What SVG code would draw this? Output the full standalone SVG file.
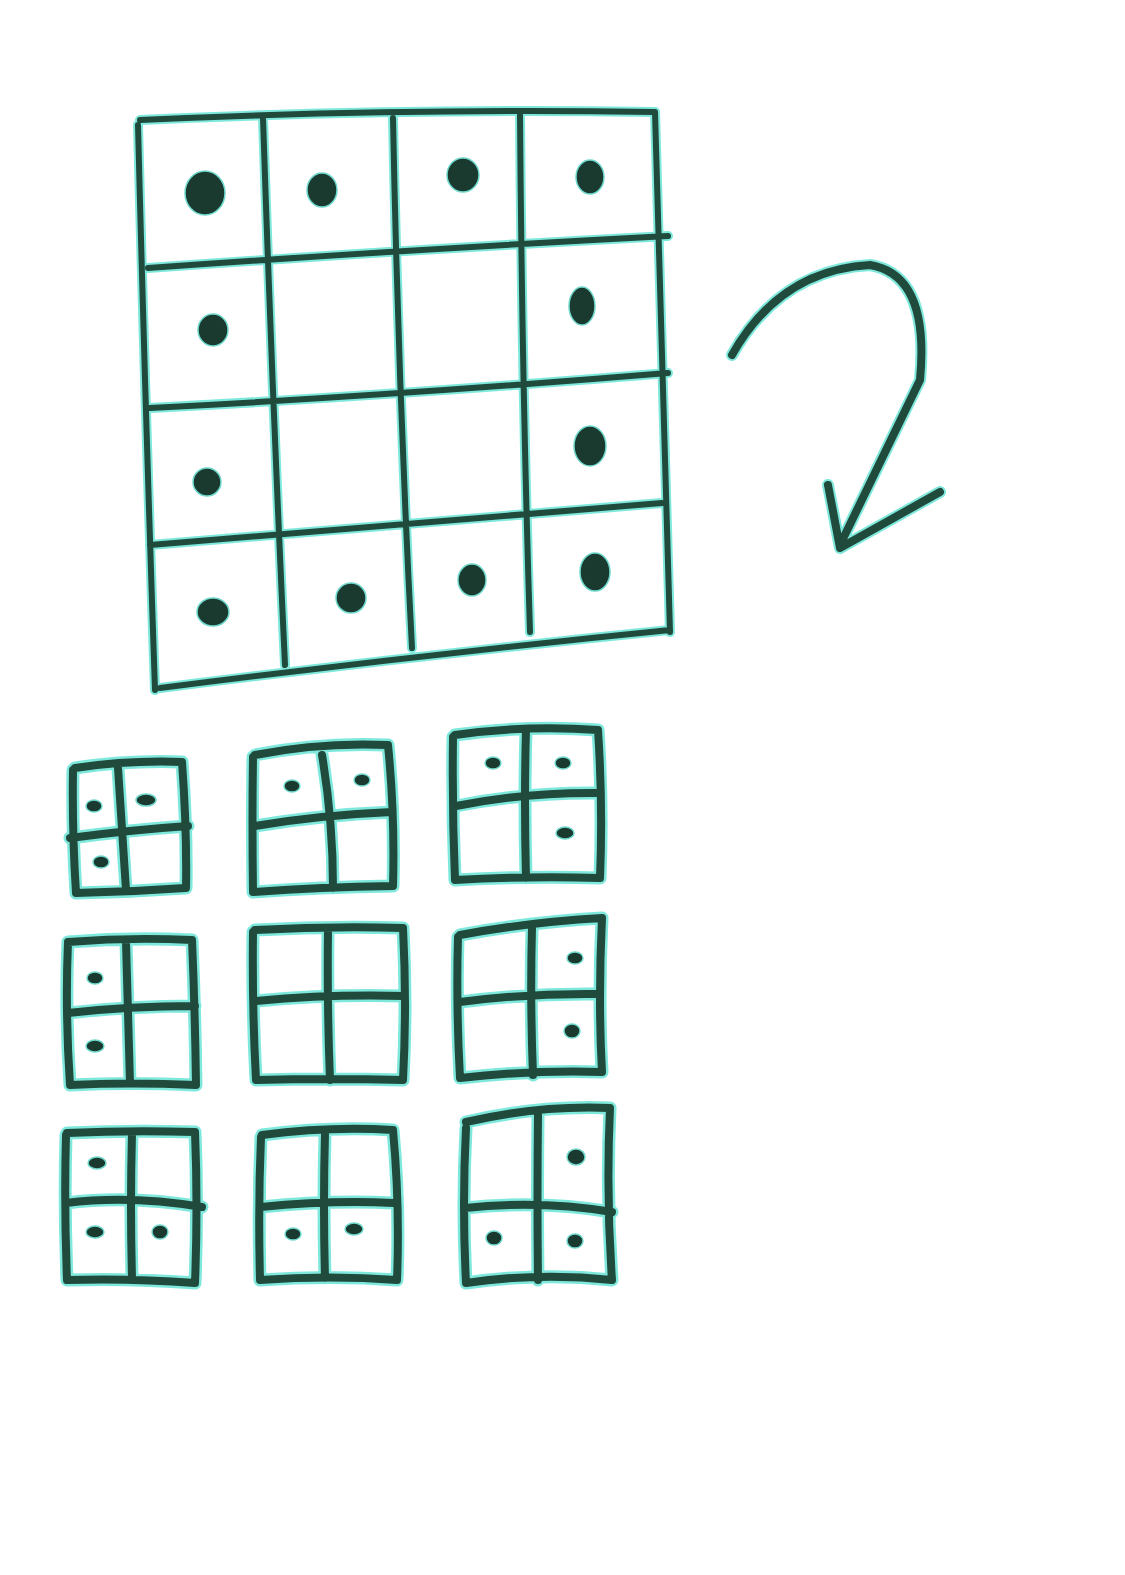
<svg xmlns="http://www.w3.org/2000/svg" width="1125" height="1575" viewBox="0 0 1125 1575">
<style>
.h{fill:none;stroke:#7fe8dc;stroke-linecap:round;stroke-linejoin:round;}
.k{fill:none;stroke:#1f4a3c;stroke-linecap:round;stroke-linejoin:round;}
.big .h{stroke-width:10}
.big .k{stroke-width:6}
.sm .h{stroke-width:13}
.sm .k{stroke-width:8}
.d{fill:#1a3a30;stroke:#6fd8cc;stroke-width:1.5}
</style>
<defs>
<path id="g0" d="M140,120 Q400,108 655,112 M138,125 Q145,400 155,690 M655,112 Q662,380 670,632 M160,688 Q420,655 670,630 M148,268 Q400,250 668,236 M150,408 Q400,395 668,373 M150,545 Q400,525 662,503 M263,118 Q272,390 285,665 M393,118 Q398,380 412,648 M520,115 Q522,380 530,632"/>
<path id="arr" d="M732,355 Q780,270 870,265 Q930,275 920,380 L840,545 M828,485 L840,548 L940,492"/>
</defs>
<rect width="1125" height="1575" fill="#ffffff"/>
<g id="main-grid" class="big">
<use href="#g0" class="h"/>
<use href="#g0" class="k"/>
<ellipse class="d" cx="205" cy="193" rx="20" ry="22"/>
<ellipse class="d" cx="322" cy="190" rx="15" ry="17"/>
<ellipse class="d" cx="463" cy="175" rx="16" ry="17"/>
<ellipse class="d" cx="590" cy="177" rx="14" ry="17"/>
<ellipse class="d" cx="213" cy="330" rx="15" ry="16"/>
<ellipse class="d" cx="582" cy="306" rx="13" ry="19"/>
<ellipse class="d" cx="207" cy="482" rx="14" ry="14"/>
<ellipse class="d" cx="590" cy="446" rx="16" ry="20"/>
<ellipse class="d" cx="213" cy="612" rx="16" ry="14"/>
<ellipse class="d" cx="351" cy="598" rx="15" ry="15"/>
<ellipse class="d" cx="472" cy="580" rx="14" ry="16"/>
<ellipse class="d" cx="595" cy="572" rx="15" ry="19"/>
</g>
<g id="connectors">
<use href="#arr" class="h" style="stroke-width:12"/>
<use href="#arr" class="k" style="stroke-width:8"/>
</g>
<defs>
<path id="b1" d="M75,768 Q130,760 182,762 M73,770 Q72,830 76,893 M76,893 Q130,892 185,888 M182,762 Q187,830 186,888 M118,768 Q122,830 126,890 M70,838 Q130,830 188,826"/>
<path id="b2" d="M255,755 Q320,742 388,745 M253,757 Q252,820 253,892 M253,892 Q320,887 393,886 M388,745 Q395,815 393,886 M322,755 Q333,820 333,888 M255,826 Q320,815 392,812"/>
<path id="b3" d="M455,735 Q525,725 598,730 M453,737 Q452,810 455,880 M455,880 Q525,876 600,878 M598,730 Q603,805 600,878 M526,730 Q524,800 526,878 M456,806 Q525,792 600,793"/>
<path id="b4" d="M68,942 Q130,937 192,940 M68,942 Q65,1010 70,1085 M70,1085 Q130,1082 196,1085 M192,940 Q195,1010 196,1085 M126,942 Q128,1010 130,1083 M68,1013 Q130,1006 195,1006"/>
<path id="b5" d="M255,930 Q330,926 403,928 M253,932 Q252,1005 256,1080 M256,1080 Q330,1078 403,1080 M403,928 Q407,1005 403,1080 M328,930 Q327,1005 330,1080 M256,1001 Q330,994 404,996"/>
<path id="b6" d="M460,935 Q530,922 602,918 M458,937 Q456,1005 460,1078 M460,1078 Q530,1070 602,1072 M602,918 Q598,1000 602,1072 M532,928 Q530,1000 533,1075 M460,1002 Q530,993 600,994"/>
<path id="b7" d="M67,1133 Q130,1130 195,1132 M66,1135 Q64,1205 67,1280 M67,1280 Q130,1278 195,1283 M195,1132 Q198,1205 195,1283 M132,1133 Q130,1205 132,1278 M66,1203 Q130,1195 202,1207"/>
<path id="b8" d="M262,1135 Q330,1126 393,1130 M261,1137 Q258,1205 260,1280 M260,1280 Q330,1275 397,1280 M393,1130 Q400,1205 397,1280 M325,1133 Q323,1205 325,1278 M261,1207 Q330,1200 394,1203"/>
<path id="b9" d="M466,1122 Q540,1105 610,1108 M466,1128 Q462,1205 466,1283 M466,1283 Q540,1272 612,1280 M610,1108 Q606,1195 612,1280 M538,1115 Q537,1200 538,1280 M465,1208 Q540,1200 612,1212"/>
</defs>
<g id="box1" class="sm"><use href="#b1" class="h"/><use href="#b1" class="k"/>
<ellipse class="d" cx="94" cy="806" rx="8" ry="6"/><ellipse class="d" cx="146" cy="800" rx="10" ry="6"/><ellipse class="d" cx="101" cy="862" rx="8" ry="6"/></g>
<g id="box2" class="sm"><use href="#b2" class="h"/><use href="#b2" class="k"/>
<ellipse class="d" cx="292" cy="786" rx="8" ry="6"/><ellipse class="d" cx="362" cy="780" rx="8" ry="6"/></g>
<g id="box3" class="sm"><use href="#b3" class="h"/><use href="#b3" class="k"/>
<ellipse class="d" cx="493" cy="763" rx="8" ry="6"/><ellipse class="d" cx="563" cy="763" rx="8" ry="6"/><ellipse class="d" cx="565" cy="833" rx="9" ry="6"/></g>
<g id="box4" class="sm"><use href="#b4" class="h"/><use href="#b4" class="k"/>
<ellipse class="d" cx="95" cy="978" rx="8" ry="6"/><ellipse class="d" cx="95" cy="1046" rx="9" ry="6"/></g>
<g id="box5" class="sm"><use href="#b5" class="h"/><use href="#b5" class="k"/></g>
<g id="box6" class="sm"><use href="#b6" class="h"/><use href="#b6" class="k"/>
<ellipse class="d" cx="575" cy="958" rx="8" ry="6"/><ellipse class="d" cx="572" cy="1031" rx="8" ry="7"/></g>
<g id="box7" class="sm"><use href="#b7" class="h"/><use href="#b7" class="k"/>
<ellipse class="d" cx="97" cy="1163" rx="9" ry="6"/><ellipse class="d" cx="95" cy="1232" rx="9" ry="6"/><ellipse class="d" cx="160" cy="1232" rx="8" ry="7"/></g>
<g id="box8" class="sm"><use href="#b8" class="h"/><use href="#b8" class="k"/>
<ellipse class="d" cx="293" cy="1234" rx="8" ry="6"/><ellipse class="d" cx="354" cy="1229" rx="9" ry="6"/></g>
<g id="box9" class="sm"><use href="#b9" class="h"/><use href="#b9" class="k"/>
<ellipse class="d" cx="576" cy="1157" rx="9" ry="8"/><ellipse class="d" cx="494" cy="1238" rx="8" ry="7"/><ellipse class="d" cx="575" cy="1241" rx="8" ry="7"/></g>
</svg>
